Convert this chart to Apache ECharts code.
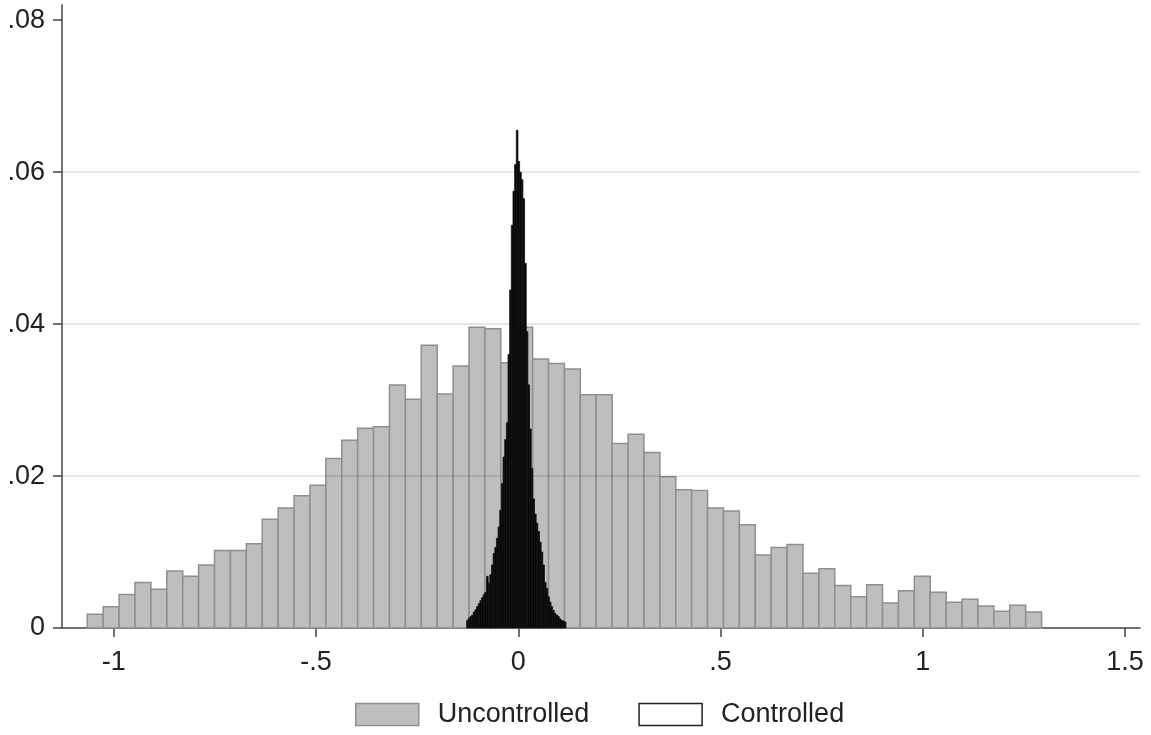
<!DOCTYPE html>
<html>
<head>
<meta charset="utf-8">
<script src="https://cdn.jsdelivr.net/npm/echarts@6/dist/echarts.min.js"></script>
<style>
html,body{margin:0;padding:0;background:#fff;}
#chart{width:1151px;height:735px;}
</style>
</head>
<body>
<div id="chart"></div>
<script>
// ---- Data ----
const seriesNames = ['Uncontrolled', 'Controlled'];

// Uncontrolled histogram: 60 bins (fraction per bin)
const uncontrolledStart = -1.0655;
const uncontrolledBinWidth = 0.03932;
const uncontrolledValues = [
  0.0018, 0.0028, 0.0044, 0.0060, 0.0051, 0.0075, 0.0068, 0.0083, 0.0102, 0.0102,
  0.0111, 0.0143, 0.0158, 0.0174, 0.0188, 0.0223, 0.0247, 0.0263, 0.0265, 0.0320,
  0.0301, 0.0372, 0.0308, 0.0345, 0.0396, 0.0394, 0.0349, 0.0396, 0.0354, 0.0348,
  0.0341, 0.0307, 0.0307, 0.0243, 0.0255, 0.0231, 0.0199, 0.0182, 0.0181, 0.0158,
  0.0154, 0.0136, 0.0096, 0.0106, 0.0110, 0.0072, 0.0078, 0.0056, 0.0041, 0.0057,
  0.0033, 0.0049, 0.0068, 0.0047, 0.0034, 0.0038, 0.0029, 0.0022, 0.0030, 0.0021
];

// Controlled histogram: 60 narrow bins
const controlledStart = -0.1276;
const controlledBinWidth = 0.00409;
const controlledValues = [
  0.0010, 0.0013, 0.0015, 0.0017, 0.0021, 0.0024, 0.0028, 0.0032, 0.0036, 0.0040,
  0.0044, 0.0047, 0.0068, 0.0059, 0.0070, 0.0083, 0.0098, 0.0106, 0.0118, 0.0133,
  0.0155, 0.0190, 0.0225, 0.0248, 0.0270, 0.0360, 0.0445, 0.0530, 0.0575, 0.0610,
  0.0655, 0.0614, 0.0600, 0.0590, 0.0565, 0.0480, 0.0390, 0.0320, 0.0262, 0.0210,
  0.0170, 0.0150, 0.0138, 0.0127, 0.0113, 0.0100, 0.0083, 0.0060, 0.0052, 0.0041,
  0.0034, 0.0028, 0.0023, 0.0019, 0.0017, 0.0015, 0.0012, 0.0010, 0.0009, 0.0008
];

// Axis ticks and labels
const xTickValues = [-1, -0.5, 0, 0.5, 1, 1.5];
const xTickLabels = ['-1', '-.5', '0', '.5', '1', '1.5'];
const yTickValues = [0, 0.02, 0.04, 0.06, 0.08];
const yTickLabels = ['0', '.02', '.04', '.06', '.08'];
const yGridValues = [0.02, 0.04, 0.06];
const xRange = [-1.128, 1.537];
const yRange = [0, 0.082];

// ---- Build ----
function binsToData(start, w, vals) {
  return vals.map((v, i) => [start + i * w, start + (i + 1) * w, v]);
}
const uncData = binsToData(uncontrolledStart, uncontrolledBinWidth, uncontrolledValues);
const conData = binsToData(controlledStart, controlledBinWidth, controlledValues);

function rectRender(fill, stroke, lw) {
  return function (params, api) {
    const p0 = api.coord([api.value(0), 0]);
    const p1 = api.coord([api.value(1), api.value(2)]);
    return {
      type: 'rect',
      shape: { x: p0[0], y: p1[1], width: p1[0] - p0[0], height: p0[1] - p1[1] },
      style: { fill: fill, stroke: stroke, lineWidth: lw }
    };
  };
}

const FONT = "Arial, 'Liberation Sans', sans-serif";
const FS = 27;
const chart = echarts.init(document.getElementById('chart'), null, { renderer: 'canvas' });

chart.setOption({
  animation: false,
  backgroundColor: '#fff',
  textStyle: { fontFamily: FONT },
  grid: { left: 62, right: 11, top: 5, bottom: 107, containLabel: false },
  legend: {
    left: 355,
    top: 701,
    padding: 0,
    itemWidth: 63,
    itemHeight: 22,
    itemGap: 49,
    selectedMode: false,
    textStyle: { fontSize: FS, color: '#222', fontFamily: FONT, padding: [0, 0, 0, 14] },
    data: [
      { name: seriesNames[0], icon: 'rect', itemStyle: { color: '#bebebe', borderColor: '#8f8f8f', borderWidth: 1.5 } },
      { name: seriesNames[1], icon: 'rect', itemStyle: { color: '#ffffff', borderColor: '#222', borderWidth: 1.5 } }
    ]
  },
  xAxis: {
    type: 'value',
    min: xRange[0],
    max: xRange[1],
    axisLine: { show: true, onZero: false, lineStyle: { color: '#444', width: 1.5 } },
    axisTick: { show: true, length: 9, customValues: xTickValues, lineStyle: { color: '#444', width: 1.5 } },
    axisLabel: {
      customValues: xTickValues,
      fontSize: FS, color: '#222', fontFamily: FONT, margin: 21,
      formatter: v => { const i = xTickValues.findIndex(t => Math.abs(t - v) < 1e-9); return i >= 0 ? xTickLabels[i] : ''; }
    },
    splitLine: { show: false }
  },
  yAxis: {
    type: 'value',
    min: yRange[0],
    max: yRange[1],
    axisLine: { show: true, onZero: false, lineStyle: { color: '#444', width: 1.5 } },
    axisTick: { show: true, length: 9, customValues: yTickValues, lineStyle: { color: '#444', width: 1.5 } },
    axisLabel: {
      customValues: yTickValues,
      fontSize: FS, color: '#222', fontFamily: FONT, margin: 17,
      formatter: v => { const i = yTickValues.findIndex(t => Math.abs(t - v) < 1e-9); return i >= 0 ? yTickLabels[i] : ''; }
    },
    splitLine: { show: false }
  },
  series: [
    {
      name: seriesNames[0],
      type: 'custom',
      z: 2,
      itemStyle: { color: '#bebebe' },
      encode: { x: [0, 1], y: 2 },
      renderItem: rectRender('#bebebe', '#8f8f8f', 1.5),
      data: uncData
    },
    {
      name: 'grid',
      type: 'custom',
      z: 3,
      silent: true,
      encode: { y: 0 },
      renderItem: function (params, api) {
        const v = api.value(0);
        const a = api.coord([xRange[0], v]);
        const b = api.coord([xRange[1], v]);
        return { type: 'line', shape: { x1: a[0], y1: a[1], x2: b[0], y2: b[1] },
                 style: { stroke: 'rgba(0,0,0,0.16)', lineWidth: 1.2 } };
      },
      data: yGridValues.map(v => [v])
    },
    {
      name: seriesNames[1],
      type: 'custom',
      z: 4,
      itemStyle: { color: '#000' },
      encode: { x: [0, 1], y: 2 },
      renderItem: rectRender('#050505', '#111', 0.8),
      data: conData
    }
  ]
});
</script>
</body>
</html>
